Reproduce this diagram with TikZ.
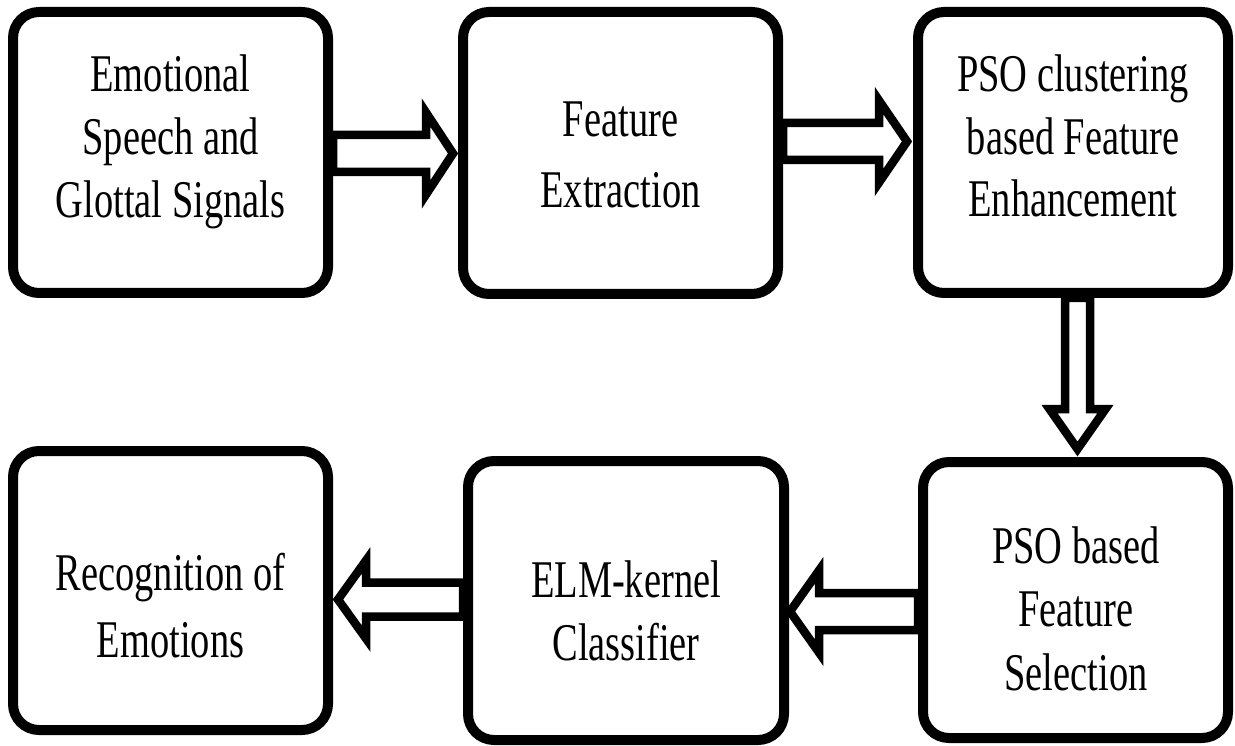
\documentclass[tikz,border=0pt]{standalone}
\usepackage{fontspec}
\setmainfont{Liberation Serif}[FakeStretch=0.725]
\usetikzlibrary{calc}
\tikzset{
  box/.style={draw=black, line width=10pt, rounded corners=26pt, inner sep=0pt, outer sep=0.5\pgflinewidth},
  lbl/.style={font=\fontsize{53}{#1}\selectfont, align=center, inner sep=0pt, text=black},
  blockarrow/.style={draw=black, fill=white, line width=8.5pt, line join=miter},
}
\newcommand\hollowarrow[5]{%
  \coordinate (hbase) at ($(#2)!#5!(#1)$);
  \draw[blockarrow] ($(#1)!#3!90:(#2)$) -- ($(hbase)!#3!90:(#2)$) -- ($(hbase)!#4!90:(#2)$) -- (#2)
    -- ($(hbase)!#4!-90:(#2)$) -- ($(hbase)!#3!-90:(#2)$) -- ($(#1)!#3!-90:(#2)$) -- cycle;
}
\begin{document}
\begin{tikzpicture}[x=1pt,y=-1pt]
\useasboundingbox (0,0) rectangle (1235,746);
\fill[white] (0,0) rectangle (1235,746);
% boxes
\node[box, minimum width=315pt, minimum height=281pt] (b1) at (170.5,152.5) {};
\node[box, minimum width=315pt, minimum height=282pt] (b2) at (620.5,153) {};
\node[box, minimum width=310pt, minimum height=281pt] (b3) at (1073,152.5) {};
\node[box, minimum width=305pt, minimum height=276pt] (b4) at (1075.5,600) {};
\node[box, minimum width=316pt, minimum height=279pt] (b5) at (626,600.5) {};
\node[box, minimum width=315pt, minimum height=279pt] (b6) at (170.5,590.5) {};
% texts
\node[lbl=63] (t1) at (170.5,142.4) {\strut Emotional\\ \strut Speech and\\ \strut Glottal Signals};
\node[lbl=71] (t2) at (620.5,158.3) {\strut Feature\\ \strut Extraction};
\node[lbl=62.5] (t3) at (1073,142) {\strut PSO clustering\\ \strut based Feature\\ \strut Enhancement};
\node[lbl=63.5] (t4) at (1076,613.8) {\strut PSO based\\ \strut Feature\\ \strut Selection};
\node[lbl=63] (t5) at (626,615.9) {\strut ELM-kernel\\ \strut Classifier};
\node[lbl=67] (t6) at (170.5,610.1) {\strut Recognition of\\ \strut Emotions};
% arrow end points
\coordinate (a1s) at ($(b1.east)+(0,1)$);
\coordinate (a1t) at ($(b2.west)+(-5,0.5)$);
\coordinate (a2s) at ($(b2.east)+(0,-11.5)$);
\coordinate (a2t) at ($(b3.west)+(-6,-11)$);
\coordinate (a3s) at ($(b3.south)+(4.5,0)$);
\coordinate (a3t) at ($(b4.north -| a3s)+(0,-8)$);
\coordinate (a4s) at ($(b4.west)+(0,11.5)$);
\coordinate (a4t) at ($(b5.east)+(1,11)$);
\coordinate (a5s) at ($(b5.west)+(0,-1)$);
\coordinate (a5t) at ($(b6.east)+(5,9)$);
% arrows
\hollowarrow{a1s}{a1t}{18.5pt}{41pt}{27pt}
\hollowarrow{a2s}{a2t}{18.5pt}{41pt}{28pt}
\hollowarrow{a3s}{a3t}{12.5pt}{28pt}{40pt}
\hollowarrow{a4s}{a4t}{18.5pt}{41pt}{29pt}
\hollowarrow{a5s}{a5t}{17pt}{39pt}{28pt}
\end{tikzpicture}
\end{document}
